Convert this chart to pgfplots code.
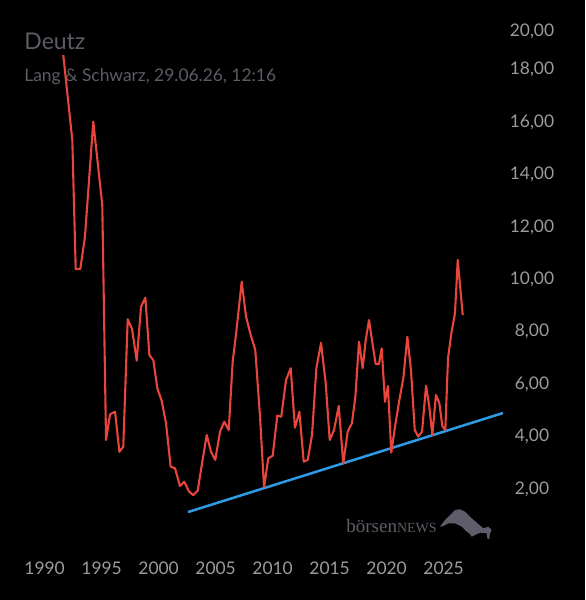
\documentclass[border=0pt]{standalone}
\usepackage{pgfplots}
\pgfplotsset{compat=1.18}
\usepackage{fontspec}
\setmainfont{Lato}
\newfontfamily\serifl{Liberation Serif}
\definecolor{bg}{HTML}{000000}
\definecolor{ttl}{HTML}{5C5C66}
\definecolor{tick}{HTML}{9C9CA0}
\definecolor{redl}{HTML}{E8453C}
\definecolor{bluel}{HTML}{2E9BE6}
\definecolor{logo}{HTML}{5E5E6A}
\begin{document}
\begin{tikzpicture}
\begin{scope}[x=0.5pt,y=-0.5pt,yshift=300pt]
\fill[bg] (0,0) rectangle (585,600);
\node[anchor=base west,inner sep=0,text=ttl,font=\fontsize{11.5}{13}\selectfont] at (24,49.3) {Deutz};
\node[anchor=base west,inner sep=0,text=ttl,font=\fontsize{8.7}{10}\selectfont] at (24,81.7) {Lang \& Schwarz, 29.06.26, 12:16};
\node[anchor=base west,inner sep=0,text=logo,font=\serifl\fontsize{9.5}{11}\selectfont] at (346,533) {börsen{\fontsize{7}{8}\selectfont NEWS}};
\fill[logo] (440,526.7) -- (445,520) -- (450,515) -- (455,510) -- (460,509.3) -- (465,511.7) -- (471.7,518.3) -- (478.3,524) -- (483.3,528.3) -- (488.3,526.7) -- (491.7,530) -- (490,533.3) -- (489.3,539.3) -- (487.3,538.3) -- (486.7,533.3) -- (480,532.7) -- (475,535) -- (471.7,536.7) -- (469.3,533.3) -- (466.7,531.7) -- (461.7,526.7) -- (455,523.3) -- (448.3,523.3) -- (443.3,526) -- cycle;
\end{scope}
\begin{axis}[
  at={(7.25pt,29.3pt)}, anchor=south west,
  scale only axis, width=245.1pt, height=255.45pt,
  xmin=1987.5, xmax=2030.5, ymin=0, ymax=19.5,
  axis line style={draw=none}, major tick length=0pt, tick style={draw=none},
  xtick={1990,1995,2000,2005,2010,2015,2020,2025},
  xticklabels={1990,1995,2000,2005,2010,2015,2020,2025},
  ytick={2,4,6,8,10,12,14,16,18},
  yticklabels={{2,00},{4,00},{6,00},{8,00},{10,00},{12,00},{14,00},{16,00},{18,00}},
  extra y ticks={19.48}, extra y tick labels={20{,}00},
  yticklabel pos=right,
  ticklabel style={text=tick,font=\fontsize{8.7}{10}\selectfont},
  yticklabel style={anchor=center,xshift=13.65pt},
  xticklabel style={anchor=center,yshift=-13.3pt,xshift=0.8pt},
  clip=false
]
\addplot[bluel,line width=1.25pt] coordinates {(2002.72,1.12) (2030.35,4.90)};
\addplot[redl,line width=1.05pt,line join=round] coordinates {
(1991.78,18.56) (1992.57,15.32) (1992.87,10.39) (1993.27,10.39) (1993.68,11.63)
(1994.41,16.02) (1995.20,12.84) (1995.53,3.87) (1995.88,4.85) (1996.32,4.95)
(1996.70,3.42) (1997.04,3.61) (1997.43,8.48) (1997.81,8.11) (1998.22,6.90)
(1998.60,8.96) (1998.98,9.30) (1999.33,7.11) (1999.68,6.92) (2000.03,5.84)
(2000.41,5.37) (2000.79,4.51) (2001.20,2.85) (2001.58,2.79) (2002.02,2.11)
(2002.39,2.28) (2002.81,1.90) (2003.18,1.77) (2003.57,1.94) (2004.00,3.11)
(2004.36,4.06) (2004.74,3.42) (2005.11,3.11) (2005.53,4.19) (2005.90,4.57)
(2006.29,4.25) (2006.64,6.86) (2006.94,7.94) (2007.43,9.91) (2007.81,8.58)
(2008.22,7.88) (2008.62,7.31) (2009.04,4.76) (2009.39,2.06) (2009.76,3.17)
(2010.15,3.27) (2010.55,4.80) (2010.90,4.76) (2011.32,6.16) (2011.73,6.61)
(2012.10,4.34) (2012.49,4.95) (2012.87,3.04) (2013.22,3.11) (2013.60,4.06)
(2013.98,6.61) (2014.39,7.58) (2014.80,6.03) (2015.15,3.87) (2015.53,4.25)
(2015.94,5.17) (2016.34,2.98) (2016.73,4.19) (2017.10,4.51) (2017.40,5.52)
(2017.72,7.62) (2018.04,6.61) (2018.31,7.69) (2018.60,8.45) (2018.92,7.50)
(2019.18,6.77) (2019.47,6.77) (2019.71,7.37) (2020.00,5.33) (2020.26,5.93)
(2020.55,3.39) (2020.88,4.38) (2021.26,5.40) (2021.61,6.23) (2021.96,7.81)
(2022.28,6.54) (2022.61,4.25) (2022.92,4.00) (2023.25,4.19) (2023.60,5.94)
(2023.89,5.14) (2024.15,4.06) (2024.47,5.59) (2024.77,5.27) (2025.03,4.40)
(2025.29,4.25) (2025.53,6.99) (2025.82,7.94) (2026.14,8.71) (2026.38,10.74)
(2026.82,8.64)};
\end{axis}
\end{tikzpicture}
\end{document}
